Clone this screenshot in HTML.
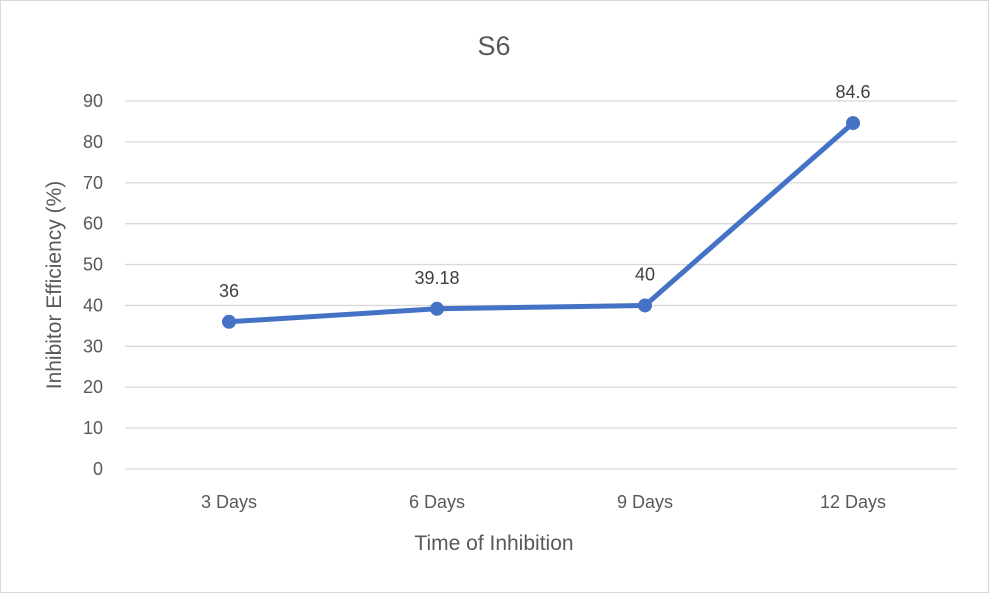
<!DOCTYPE html>
<html><head><meta charset="utf-8"><style>
body{margin:0;background:#fff}
svg{display:block;font-family:"Liberation Sans",sans-serif}
</style></head><body>
<svg id="chart" width="989" height="593">
<rect x="0.5" y="0.5" width="988" height="592" fill="#fff" stroke="#d9d9d9"/>
<text x="494" y="55" text-anchor="middle" font-size="27" fill="#595959">S6</text>
<g id="grid"></g><g id="yticks"></g><g id="xticks"></g><g id="series"></g>
<text x="494" y="550" text-anchor="middle" font-size="21" fill="#595959">Time of Inhibition</text>
<text transform="translate(61,285) rotate(-90)" text-anchor="middle" font-size="21" fill="#595959">Inhibitor Efficiency (%)</text>
</svg>
<script>
const categories=["3 Days","6 Days","9 Days","12 Days"];
const values=[36,39.18,40,84.6];
const valueLabels=["36","39.18","40","84.6"];
const yTicks=[0,10,20,30,40,50,60,70,80,90];
const ns="http://www.w3.org/2000/svg";
const L=125,R=957,Y0=469,Y90=101;
const y=v=>Y0-(v/90)*(Y0-Y90);
const bw=(R-L)/categories.length;
const x=i=>L+bw*(i+0.5);
function mk(t,a,p,txt){const e=document.createElementNS(ns,t);for(const k in a)e.setAttribute(k,a[k]);if(txt!=null)e.textContent=txt;document.getElementById(p).appendChild(e);return e;}
yTicks.forEach(v=>{
 const g=mk('line',{x1:L,x2:R,y1:y(v),y2:y(v),stroke:'#d9d9d9','stroke-width':1.3},'grid');
 
 
 const t=mk('text',{x:103,y:y(v)+6,'text-anchor':'end','font-size':18,fill:'#595959'},'yticks',v);
 
 
});
categories.forEach((c,i)=>{
 const t=mk('text',{x:x(i),y:508,'text-anchor':'middle','font-size':18,fill:'#595959'},'xticks',c);
 
 
});
const pl=mk('polyline',{points:values.map((v,i)=>x(i)+','+y(v)).join(' '),fill:'none',stroke:'#4472c4','stroke-width':5,'stroke-linejoin':'round'},'series');


values.forEach((v,i)=>{
 const c=mk('circle',{cx:x(i),cy:y(v),r:7,fill:'#4472c4'},'series');
 
 
 const t=mk('text',{x:x(i),y:y(v)-25,'text-anchor':'middle','font-size':18,fill:'#404040'},'series',valueLabels[i]);
 
 
});
</script>
</body></html>
